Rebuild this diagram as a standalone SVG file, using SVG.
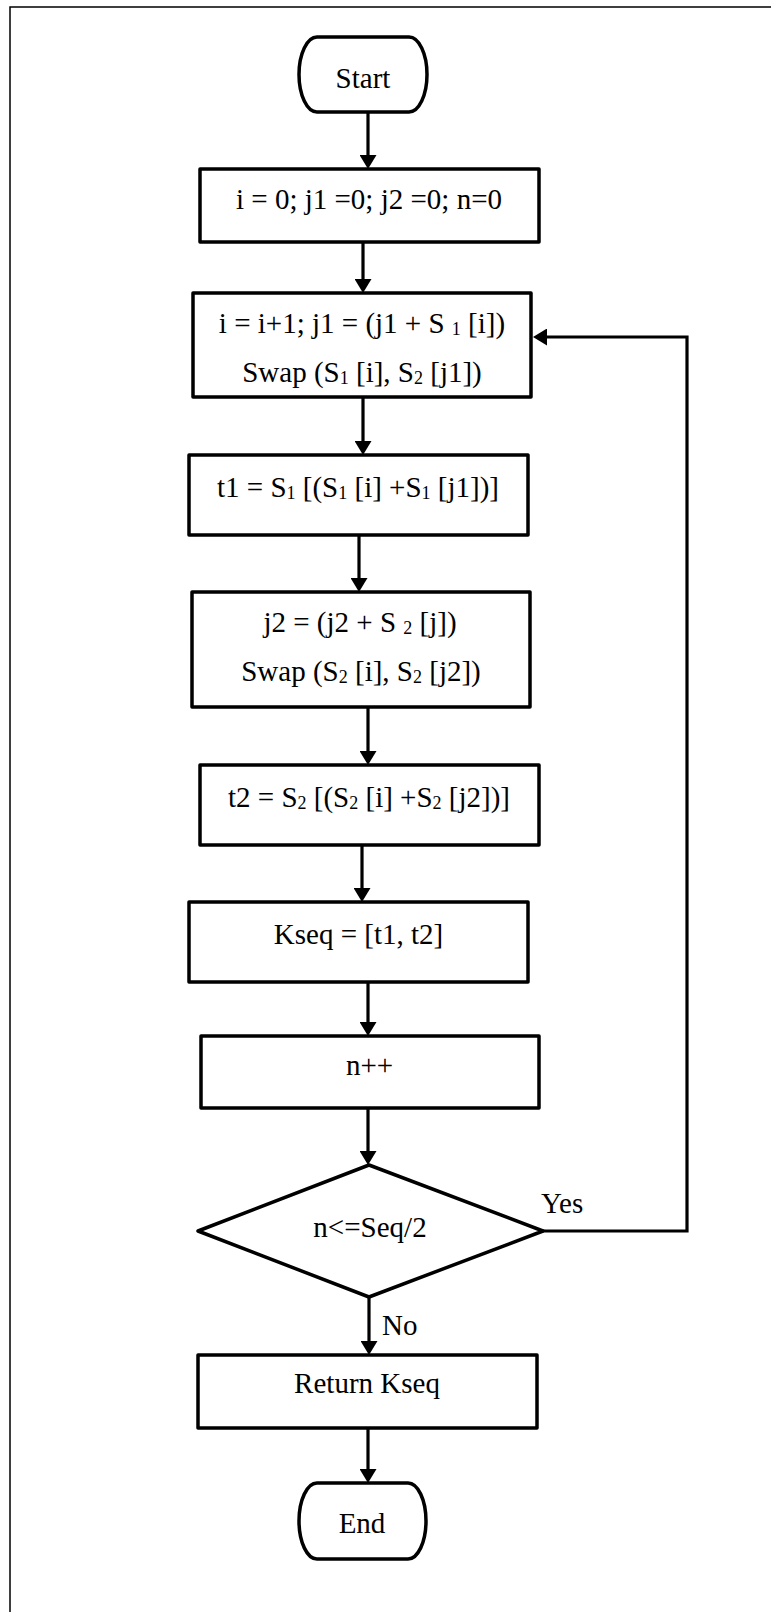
<svg xmlns="http://www.w3.org/2000/svg" width="771" height="1612" viewBox="0 0 771 1612">
  <style>
    .shape { fill: #ffffff; stroke: #000000; stroke-width: 3.5; stroke-linejoin: round; }
    .frame { fill: none; stroke: #000000; stroke-width: 1.5; }
    .wire { fill: none; stroke: #000000; stroke-width: 3.2; }
    text { font-family: "Liberation Serif", "Times New Roman", serif; font-size: 29px; fill: #000000; }
    .c { text-anchor: middle; }
    .sub { font-size: 18px; }
  </style>
  <defs>
    <marker id="arrow" markerUnits="userSpaceOnUse" markerWidth="15" markerHeight="17" refX="4" refY="8.5" orient="auto">
      <path d="M0,0 L14,8.5 L0,17 Z" fill="#000000"/>
    </marker>
  </defs>

  <rect width="771" height="1612" fill="#ffffff"/>
  <!-- page frame -->
  <path class="frame" d="M10,1612 V7 H771"/>

  <!-- connectors -->
  <g id="connectors">
    <path class="wire" d="M368,113 V159" marker-end="url(#arrow)"/>
    <path class="wire" d="M363,242 V283" marker-end="url(#arrow)"/>
    <path class="wire" d="M363,397 V445" marker-end="url(#arrow)"/>
    <path class="wire" d="M359,535 V582" marker-end="url(#arrow)"/>
    <path class="wire" d="M368,707 V755" marker-end="url(#arrow)"/>
    <path class="wire" d="M362,845 V892" marker-end="url(#arrow)"/>
    <path class="wire" d="M368,982 V1026" marker-end="url(#arrow)"/>
    <path class="wire" d="M368,1108 V1155" marker-end="url(#arrow)"/>
    <path class="wire" d="M369,1297 V1345" marker-end="url(#arrow)"/>
    <path class="wire" d="M368,1428 V1473" marker-end="url(#arrow)"/>
    <path class="wire" d="M543,1231 H687 V337 H543" marker-end="url(#arrow)"/>
    <text x="541" y="1213">Yes</text>
    <text x="382" y="1335">No</text>
  </g>

  <g id="start">
    <path class="shape" d="M317,37 H409 C418.9,37 427,53.8 427,74.5 C427,95.2 418.9,112 409,112 H317 C307.1,112 299,95.2 299,74.5 C299,53.8 307.1,37 317,37 Z"/>
    <text class="c" x="363" y="88">Start</text>
  </g>

  <g id="init">
    <rect class="shape" x="200" y="169" width="339" height="73"/>
    <text class="c" x="369" y="209">i = 0; j1 =0; j2 =0; n=0</text>
  </g>

  <g id="swap1">
    <rect class="shape" x="193" y="293" width="338" height="104"/>
    <text class="c" x="362" y="333">i = i+1; j1 = (j1 + S <tspan class="sub" dy="2">1</tspan><tspan dy="-2"> [i])</tspan></text>
    <text class="c" x="362" y="382">Swap (S<tspan class="sub" dy="2">1</tspan><tspan dy="-2"> [i], S</tspan><tspan class="sub" dy="2">2</tspan><tspan dy="-2"> [j1])</tspan></text>
  </g>

  <g id="t1">
    <rect class="shape" x="189" y="455" width="339" height="80"/>
    <text class="c" x="358" y="497">t1 = S<tspan class="sub" dy="2">1</tspan><tspan dy="-2"> [(S</tspan><tspan class="sub" dy="2">1</tspan><tspan dy="-2"> [i] +S</tspan><tspan class="sub" dy="2">1</tspan><tspan dy="-2"> [j1])]</tspan></text>
  </g>

  <g id="swap2">
    <rect class="shape" x="192" y="592" width="338" height="115"/>
    <text class="c" x="360" y="632">j2 = (j2 + S <tspan class="sub" dy="2">2</tspan><tspan dy="-2"> [j])</tspan></text>
    <text class="c" x="361" y="681">Swap (S<tspan class="sub" dy="2">2</tspan><tspan dy="-2"> [i], S</tspan><tspan class="sub" dy="2">2</tspan><tspan dy="-2"> [j2])</tspan></text>
  </g>

  <g id="t2">
    <rect class="shape" x="200" y="765" width="339" height="80"/>
    <text class="c" x="369" y="807">t2 = S<tspan class="sub" dy="2">2</tspan><tspan dy="-2"> [(S</tspan><tspan class="sub" dy="2">2</tspan><tspan dy="-2"> [i] +S</tspan><tspan class="sub" dy="2">2</tspan><tspan dy="-2"> [j2])]</tspan></text>
  </g>

  <g id="kseq">
    <rect class="shape" x="189" y="902" width="339" height="80"/>
    <text class="c" x="358.5" y="944">Kseq = [t1, t2]</text>
  </g>

  <g id="increment">
    <rect class="shape" x="201" y="1036" width="338" height="72"/>
    <text class="c" x="369.5" y="1075">n++</text>
  </g>

  <g id="decision">
    <path class="shape" d="M369,1165 L543,1231 L369,1297 L198,1231 Z"/>
    <text class="c" x="370" y="1237">n&lt;=Seq/2</text>
  </g>

  <g id="return">
    <rect class="shape" x="198" y="1355" width="339" height="73"/>
    <text class="c" x="367" y="1393">Return Kseq</text>
  </g>

  <g id="end">
    <path class="shape" d="M317,1483 H408 C417.9,1483 426,1500 426,1521 C426,1542 417.9,1559 408,1559 H317 C307.1,1559 299,1542 299,1521 C299,1500 307.1,1483 317,1483 Z"/>
    <text class="c" x="362" y="1533">End</text>
  </g>
</svg>
